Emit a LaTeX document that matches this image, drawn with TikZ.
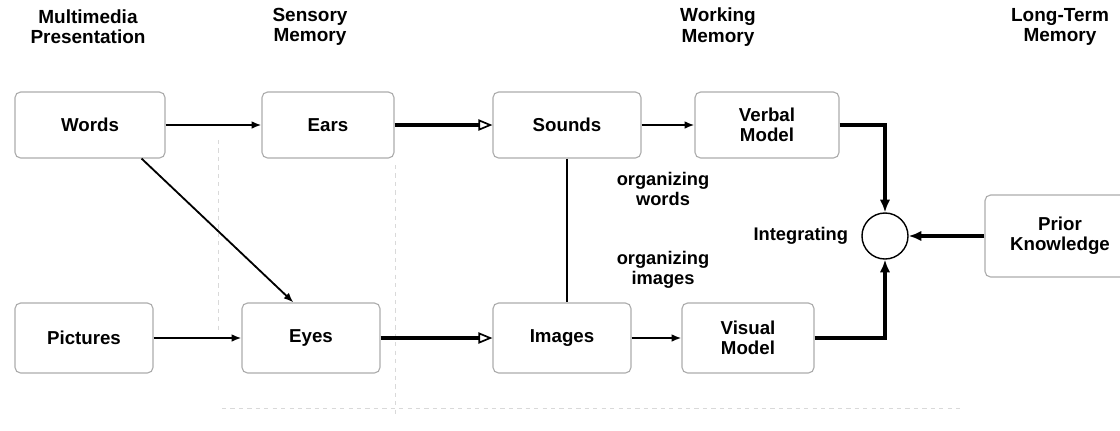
\documentclass[tikz,border=0pt]{standalone}
\usepackage{fontspec}
\setmainfont{Liberation Sans}
\usepackage{tikz}
\usetikzlibrary{positioning, arrows.meta, calc}

\begin{document}
\begin{tikzpicture}[
  x=0.025cm, y=-0.025cm,
  every node/.style={font=\fontsize{13.5}{14.5}\selectfont\bfseries, align=center},
  stage/.style={
    draw=gray!65, line width=0.8pt, rounded corners=4pt,
    minimum height=1.65cm, font=\fontsize{13.3}{14.5}\selectfont\bfseries
  },
  heading/.style={font=\fontsize{13.5}{14.5}\selectfont\bfseries},
  note/.style={font=\fontsize{13}{14.5}\selectfont\bfseries},
  flow/.style={-{Latex[length=7pt,width=5.5pt]}, line width=1.3pt},
  pass/.style={-{Triangle[open,length=10pt,width=8pt,line width=1.2pt]}, line width=2.2pt},
  merge/.style={-{Latex[length=9pt,width=7.5pt]}, line width=2.4pt},
  trace/.style={draw=gray!30, dashed, line width=0.6pt},
]

\useasboundingbox (0,0) rectangle (1120,430);

% Column headings
\node[heading] (hpres) at (88,27) {Multimedia\\Presentation};
\node[heading] (hsens) at (310,27) {Sensory\\Memory};
\node[heading] (hwork) at (718,27) {Working\\Memory};
\node[heading] (hlong) at (1060,27) {Long-Term\\Memory};

% Faint section traces
\draw[trace] (218,140) -- (218,330);
\draw[trace] (395,165) -- (395,415);
\draw[trace] (222,408) -- (960,408);

% Word channel
\node[stage, minimum width=3.75cm] (words) at (90,125) {Words};
\node[stage, minimum width=3.3cm] (ears) at (328,125) {Ears};
\node[stage, minimum width=3.7cm] (sounds) at (567,125) {Sounds};
\node[stage, minimum width=3.6cm] (verbal) at (767,125) {Verbal\\Model};

% Picture channel
\node[stage, minimum width=3.45cm, minimum height=1.75cm] (pictures) at (84,338) {Pictures};
\node[stage, minimum width=3.45cm, minimum height=1.75cm] (eyes) at (311,338) {Eyes};
\node[stage, minimum width=3.45cm, minimum height=1.75cm] (images) at (562,338) {Images};
\node[stage, minimum width=3.3cm, minimum height=1.75cm] (visual) at (748,338) {Visual\\Model};

% Long-term memory
\node[stage, minimum width=3.75cm, minimum height=2.05cm] (prior) at (1060,236) {Prior\\Knowledge};
\node[draw, circle, line width=1pt, minimum size=1.15cm] (integ) at (885,236) {};

% Labels
\node[note, anchor=east] (lint) at (853,236) {Integrating};
\node[note] (lorgw) at (663,189) {organizing\\words};
\node[note] (lorgi) at (663,270) {organizing\\images};

% Arrows
\draw[flow] (words.east) -- (ears.west);
\draw[pass] (ears.east) -- (sounds.west);
\draw[flow] (sounds.east) -- (verbal.west);
\draw[flow] ([xshift=-0.6cm]words.south east) -- ([xshift=1.3cm]eyes.north west);
\draw[flow] (pictures.east) -- (eyes.west);
\draw[pass] (eyes.east) -- (images.west);
\draw[flow] (images.east) -- (visual.west);
\draw[line width=1.3pt] (sounds.south) -- (sounds.south |- images.north);
\draw[merge] (verbal.east) -| (integ.north);
\draw[merge] (visual.east) -| (integ.south);
\draw[merge] (prior.west) -- (integ.east);

\end{tikzpicture}
\end{document}
